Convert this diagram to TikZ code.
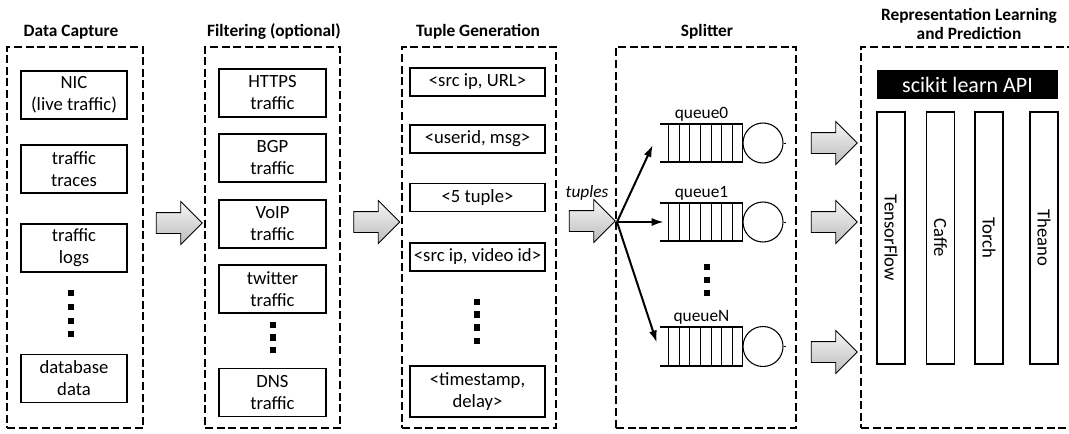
\documentclass[tikz,border=0pt]{standalone}
\usepackage{fontspec}
\setmainfont{Carlito}
\usepackage{xcolor}
\definecolor{ColA}{RGB}{246,246,246}
\definecolor{ColB}{RGB}{188,188,188}
\usepackage{tikz}
\usetikzlibrary{shapes.arrows}
\usetikzlibrary{arrows.meta}
\usetikzlibrary{positioning}
\newdimen\px \px=0.75pt
\tikzstyle{Stage}=[draw,line width=1.5pt,dash pattern=on 6pt off 2.7pt,
inner sep=0pt,minimum height=381\px]
\tikzstyle{Title}=[font=\fontsize{13}{14}\selectfont\bfseries,inner sep=0pt]
\tikzstyle{Item}=[draw,line width=0.8pt,align=center,inner sep=0pt,
font=\fontsize{14}{16.5}\selectfont]
\tikzstyle{ItemA}=[Item,minimum width=106\px,minimum height=48\px]
\tikzstyle{ItemB}=[Item,minimum width=107\px,minimum height=48\px]
\tikzstyle{ItemC}=[Item,minimum width=135\px,minimum height=28\px]
\tikzstyle{Dot}=[fill=black,inner sep=0pt,minimum size=6.5\px]
\tikzstyle{BigArrow}=[single arrow,draw,line width=0.6pt,inner xsep=0pt,
inner ysep=10\px,minimum height=46\px,single arrow head extend=11\px,
top color=ColA,bottom color=ColB]
\tikzstyle{Fan}=[line width=1.5pt,-{Latex[length=9pt,width=6pt]}]
\tikzstyle{Queue}=[inner sep=0pt,minimum width=83\px,minimum height=38\px]
\tikzstyle{QEdge}=[line width=1.3pt]
\tikzstyle{QCell}=[line width=0.7pt]
\tikzstyle{Server}=[circle,draw,line width=0.8pt,inner sep=0pt,minimum size=40\px]
\tikzstyle{QName}=[font=\fontsize{13}{14}\selectfont,inner sep=2pt]
\tikzstyle{Frame}=[draw,line width=0.8pt,inner sep=0pt,rotate=-90,
minimum width=252\px,minimum height=28\px,font=\fontsize{14}{16}\selectfont]
\tikzstyle{Api}=[fill=black,text=white,inner sep=0pt,minimum width=181\px,
minimum height=29\px,font=\fontsize{16.5}{18}\selectfont]

\begin{document}
\begin{tikzpicture}[x=0.75pt,y=-0.75pt]
    \useasboundingbox (0,0) rectangle (1069,433);
    \clip (0,0) rectangle (1069,433);
        \node[Title](t1)at(71,32){Data Capture};
        \node[Title](t2)at(274,32){Filtering (optional)};
        \node[Title](t3)at(478,32){Tuple Generation};
        \node[Title](t4)at(707,32){Splitter};
        \node[Title,align=center](t5)at(969,24){Representation Learning\\and Prediction};
        \node[Stage,minimum width=136\px](b1)at(75,237.5){};
        \node[Stage,minimum width=135\px](b2)at(272.5,237.5){};
        \node[Stage,minimum width=154\px](b3)at(479,237.5){};
        \node[Stage,minimum width=180\px](b4)at(706,237.5){};
        \node[Stage,minimum width=224\px](b5)at(973,237.5){};
        \node[ItemA](nic)at(74,95){NIC\\(live traffic)};
        \node[ItemA](traces)at(74,169){traffic\\traces};
        \node[ItemA](logs)at(74,248){traffic\\logs};
        \node[Dot](d11)at(71,293){};
        \node[Dot](d12)at(71,307){};
        \node[Dot](d13)at(71,321){};
        \node[Dot](d14)at(71,334){};
        \node[ItemA](db)at(74,378.5){database\\data};
        \node[ItemB](https)at(272.5,93){HTTPS\\traffic};
        \node[ItemB](bgp)at(272.5,158){BGP\\traffic};
        \node[ItemB](voip)at(272.5,224){VoIP\\traffic};
        \node[ItemB](twitter)at(272.5,289){twitter\\traffic};
        \node[Dot](d21)at(273,325){};
        \node[Dot](d22)at(273,337.5){};
        \node[Dot](d23)at(273,350){};
        \node[ItemB](dns)at(272.5,392.5){DNS\\traffic};
        \node[ItemC](url)at(477.5,82){<src ip, URL>};
        \node[ItemC](msg)at(477.5,139){<userid, msg>};
        \node[ItemC](five)at(477.5,197.5){<5 tuple>};
        \node[ItemC](video)at(477.5,257){<src ip, video id>};
        \node[Dot](d31)at(477,302){};
        \node[Dot](d32)at(477,314.5){};
        \node[Dot](d33)at(477,327.5){};
        \node[Dot](d34)at(477,341){};
        \node[ItemC,minimum height=51\px](stamp)at(477.5,391.5){<timestamp,\\delay>};
        \node[BigArrow](a1)at(174,223){};
        \node[BigArrow](a2)at(371.5,222){};
        \node[BigArrow](a3)at(587,221){};
        \node[font=\fontsize{13}{14}\selectfont\itshape,inner sep=0pt](tp)at(587,193){tuples};
        \coordinate(fan)at(617,222);
        \node[Queue](q0)at(701.5,143){};
        \node[Queue](q1)at(701.5,222){};
        \node[Queue](qN)at(701.5,346.5){};
        \node[QName,above=0pt of q0](l0){queue0};
        \node[QName,above=0pt of q1](l1){queue1};
        \node[QName,above=0pt of qN](lN){queueN};
        \foreach \q in {q0,q1,qN}{
            \draw[QEdge](\q.north west)--(\q.north east);
            \draw[QEdge](\q.south west)--(\q.south east);
            \foreach \i in {0,...,7}
                \draw[QCell]([xshift=9\px+\i*10.6\px]\q.north west)--([xshift=9\px+\i*10.6\px]\q.south west);
        }
        \node[Server](s0)at(763,143){};
        \node[Server](s1)at(763,222){};
        \node[Server](sN)at(763,346.5){};
        \draw[QCell](s0.east)--++(2,0);
        \draw[QCell](s1.east)--++(2,0);
        \draw[QCell](sN.east)--++(2,0);
        \node[Dot](d41)at(707,267){};
        \node[Dot](d42)at(707,280){};
        \node[Dot](d43)at(707,293){};
        \draw[Fan](fan)--([xshift=-7\px,yshift=-2\px]q0.west);
        \draw[Fan](fan)--([xshift=4\px]q1.west);
        \draw[Fan](fan)--([xshift=-3\px,yshift=4\px]qN.west);
        \node[BigArrow](o0)at(829,143){};
        \node[BigArrow](o1)at(829,222){};
        \node[BigArrow](oN)at(829,352){};
        \node[Api](api)at(967.5,84.5){scikit learn API};
        \node[Frame](tf)at(891,238){TensorFlow};
        \node[Frame](caffe)at(940.5,238){Caffe};
        \node[Frame](torch)at(989,238){Torch};
        \node[Frame](theano)at(1044,238){Theano};
    \end{tikzpicture}
\end{document}
